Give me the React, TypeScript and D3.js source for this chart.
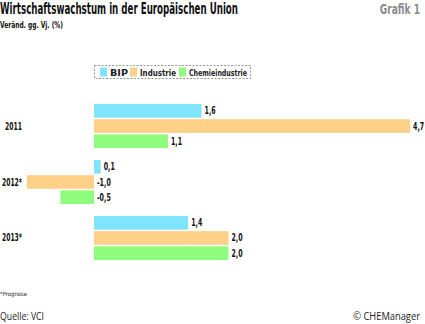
import React from "react";
import * as d3 from "d3";

const categories = ["2011", "2012*", "2013*"];
const seriesNames = ["BIP", "Industrie", "Chemieindustrie"];
const bip = [1.6, 0.1, 1.4];
const industrie = [4.7, -1.0, 2.0];
const chemie = [1.1, -0.5, 2.0];
const colors = ["#80e4fc", "#fed088", "#90fc7e"];

const W = 425;
const H = 324;
const FONT = "'Liberation Sans Narrow', 'DejaVu Sans Condensed', Arial, sans-serif";

export default function App() {
  const values = [bip, industrie, chemie];
  const x = d3.scaleLinear().domain([0, 4.7]).range([94, 410]);
  const y = d3.scaleBand<string>().domain(categories).range([104, 260]).paddingInner(0.214).paddingOuter(0);
  const ys = d3.scaleBand<string>().domain(seriesNames).range([0, y.bandwidth()]).paddingInner(0.1);
  const fmt = (v: number) => d3.format(".1f")(v).replace(".", ",").replace("−", "-");

  const legendItems = [
    { sx: 100, tx: 110, w: 18 },
    { sx: 130, tx: 140, w: 36 },
    { sx: 179, tx: 189, w: 58 },
  ];

  return (
    <svg width={W} height={H} style={{ position: "absolute", left: 0, top: 0, background: "#fff" }} fontFamily={FONT}>
      <text x={0} y={14} fontSize={15} fontWeight="bold" fill="#111" textLength={238} lengthAdjust="spacingAndGlyphs">
        Wirtschaftswachstum in der Europäischen Union
      </text>
      <text transform="translate(420,14) scale(0.72,1)" fontSize={14} fontWeight="bold" fill="#8a8a8a" textAnchor="end">Grafik 1</text>
      <text x={0} y={28} fontSize={9.5} fontWeight="bold" fill="#111" textLength={63} lengthAdjust="spacingAndGlyphs">
        Veränd. gg. Vj. (%)
      </text>

      {/* legend */}
      <rect x={94.5} y={65.5} width={156} height={13} fill="none" stroke="#999" strokeDasharray="2,1.5" strokeWidth={1} />
      {seriesNames.map((s, i) => (
        <g key={s}>
          <rect x={legendItems[i].sx} y={67.5} width={7} height={9} fill={colors[i]} />
          <text x={legendItems[i].tx} y={75.5} fontSize={9} fontWeight="bold" fill="#222" textLength={legendItems[i].w} lengthAdjust="spacingAndGlyphs">{s}</text>
        </g>
      ))}

      {categories.map((c, ci) => {
        const gy = y(c)!;
        return (
          <g key={c}>
            <text x={22} y={gy + y.bandwidth() / 2 + 3.5} fontSize={10} fontWeight="bold" fill="#111" textAnchor="end" textLength={c.length > 4 ? 20 : 17} lengthAdjust="spacingAndGlyphs">{c}</text>
            {seriesNames.map((s, si) => {
              const v = values[si][ci];
              const x0 = x(Math.min(0, v));
              const x1 = x(Math.max(0, v));
              const by = gy + ys(s)!;
              const lx = v >= 0 ? x1 + 3 : x(0) + 3;
              const ly = by + ys.bandwidth() / 2 + 3.5;
              const label = fmt(v);
              return (
                <g key={s}>
                  <rect x={x0} y={by} width={x1 - x0} height={ys.bandwidth()} fill={colors[si]} />
                  <text transform={`translate(${lx},${ly}) scale(0.7,1)`} fontSize={10} fontWeight="bold" fill="#111">{label}</text>
                </g>
              );
            })}
          </g>
        );
      })}

      <text x={0} y={296} fontSize={6} fill="#222" textLength={27} lengthAdjust="spacingAndGlyphs">*Prognose</text>
      <text x={0} y={320} fontSize={11} fill="#222" fontFamily="'Open Sans', 'Liberation Sans', sans-serif" textLength={44} lengthAdjust="spacingAndGlyphs">Quelle: VCI</text>
      <text transform="translate(420,320) scale(0.85,1)" fontSize={11} fill="#222" textAnchor="end" fontFamily="'Open Sans', 'Liberation Sans', sans-serif">© CHEManager</text>
    </svg>
  );
}
